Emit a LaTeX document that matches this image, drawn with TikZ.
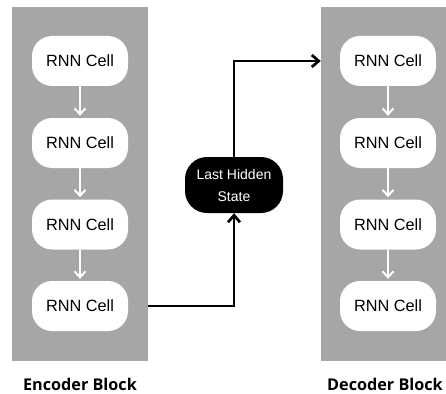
\documentclass[tikz,border=0pt]{standalone}
\usepackage{fontspec}
\setmainfont{Liberation Sans}
\newfontfamily\labelfont{Open Sans}
\usetikzlibrary{arrows.meta}
\definecolor{blockgray}{RGB}{166,166,166}
\begin{document}
\begin{tikzpicture}[x=1pt,y=-1pt,
  blockbg/.style={fill=blockgray, draw=none, inner sep=0pt, minimum height=354pt},
  cell/.style={fill=white, draw=none, rounded corners=20pt, minimum width=96pt,
    minimum height=50pt, inner sep=0pt, font=\fontsize{16.3}{19}\selectfont},
  hidden/.style={fill=black, text=white, draw=none, rounded corners=22pt,
    minimum width=98pt, minimum height=56pt, inner sep=0pt, align=center,
    font=\fontsize{14}{22}\selectfont},
  blocklabel/.style={inner sep=0pt, font=\labelfont\bfseries\fontsize{16.2}{20}\selectfont},
  wlink/.style={draw=white, line width=2pt, shorten >=2pt,
    -{Straight Barb[length=6pt,width=11pt]}},
  blink/.style={draw=black, line width=2.7pt,
    -{Straight Barb[length=7pt,width=12pt]}}]
  \useasboundingbox (0,0) rectangle (446,393);
  \fill[white] (0,0) rectangle (446,393);

  % background panels
  \node[blockbg, minimum width=136pt] (enc) at (80,184) {};
  \node[blockbg, minimum width=149pt] (dec) at (395.5,184) {};

  % encoder cells
  \node[cell] (e1) at (80,61) {RNN Cell};
  \node[cell] (e2) at (80,143) {RNN Cell};
  \node[cell] (e3) at (80,224.5) {RNN Cell};
  \node[cell] (e4) at (80,306) {RNN Cell};

  % decoder cells
  \node[cell] (d1) at (388,61) {RNN Cell};
  \node[cell] (d2) at (388,143) {RNN Cell};
  \node[cell] (d3) at (388,224.5) {RNN Cell};
  \node[cell] (d4) at (388,306) {RNN Cell};

  % hidden state
  \node[hidden] (hid) at (234,185) {Last Hidden\\State};

  % links inside the blocks
  \draw[wlink] (e1) -- (e2);
  \draw[wlink] (e2) -- (e3);
  \draw[wlink] (e3) -- (e4);
  \draw[wlink] (d1) -- (d2);
  \draw[wlink] (d2) -- (d3);
  \draw[wlink] (d3) -- (d4);

  % encoder -> hidden state -> decoder
  \draw[blink] (e4 -| enc.east) -| (hid.south);
  \draw[blink] (hid.north) |- (d1 -| dec.west);

  % block captions
  \node[blocklabel, anchor=base] (encl) at (80,390) {Encoder Block};
  \node[blocklabel, anchor=base west] (decl) at (327,390) {Decoder Block};
\end{tikzpicture}
\end{document}
